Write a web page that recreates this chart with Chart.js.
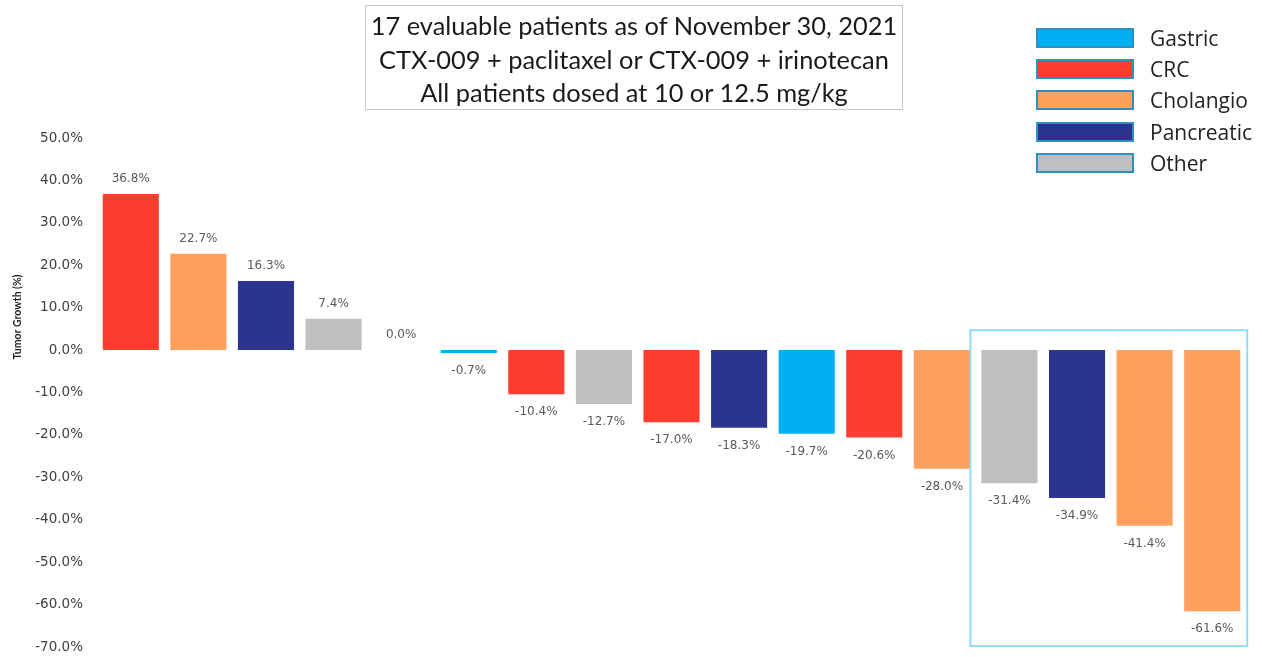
<!DOCTYPE html>
<html>
<head>
<meta charset="utf-8">
<script src="https://cdn.jsdelivr.net/npm/chart.js@4.4.0/dist/chart.umd.min.js"></script>
<style>
    html, body { margin: 0; padding: 0; background: #fff; overflow: hidden; }
    #wrap { position: relative; width: 1262px; height: 657px; }
    #chart { display: block; width: 1262px; height: 657px; }
    #titleBox {
        position: absolute; left: 365px; top: 5px; width: 538px; height: 105px;
        border: 1.5px solid #c8c8c8; box-sizing: border-box;
        font-family: Lato, sans-serif; font-size: 25.4px; line-height: 33.5px;
        text-align: center; color: #1a1a1a; padding-top: 3px;
    }
    #legend { position: absolute; left: 1036px; top: 22px; font-family: "Open Sans", sans-serif; font-size: 21px; color: #222; }
    .leg-row { display: flex; align-items: center; height: 31.3px; }
    .leg-sw { width: 98px; height: 20px; border: 2px solid #2f8fbf; box-sizing: border-box; margin-right: 16px; }
</style>
</head>
<body>
<div id="wrap">
    <canvas id="chart" width="1262" height="657"></canvas>
    <div id="titleBox"></div>
    <div id="legend"></div>
</div>
<script>
// data
const titleLines = [
    '17 evaluable patients as of November 30, 2021',
    'CTX-009 + paclitaxel or CTX-009 + irinotecan',
    'All patients dosed at 10 or 12.5 mg/kg'
];
const tumorTypes = ['Gastric', 'CRC', 'Cholangio', 'Pancreatic', 'Other'];
const typeColors = ['#00b0f0', '#ff3d2e', '#ffa05e', '#2b358f', '#bfbfbf'];
const patients = ['P1','P2','P3','P4','P5','P6','P7','P8','P9','P10','P11','P12','P13','P14','P15','P16','P17'];
const growth = [36.8, 22.7, 16.3, 7.4, 0.0, -0.7, -10.4, -12.7, -17.0, -18.3, -19.7, -20.6, -28.0, -31.4, -34.9, -41.4, -61.6];
const patientType = ['CRC','Cholangio','Pancreatic','Other','Other','Gastric','CRC','Other','CRC','Pancreatic','Gastric','CRC','Cholangio','Other','Pancreatic','Cholangio','Cholangio'];
const yTicks = [50, 40, 30, 20, 10, 0, -10, -20, -30, -40, -50, -60, -70];
const highlightFrom = 13, highlightTo = 16;

document.getElementById('titleBox').innerHTML = titleLines.map(t => `<div>${t}</div>`).join('');
const legendEl = document.getElementById('legend');
tumorTypes.forEach(function (t, i) {
    legendEl.insertAdjacentHTML('beforeend',
        `<div class="leg-row"><div class="leg-sw" style="background:${typeColors[i]}"></div><span>${t}</span></div>`);
});

const barColors = patientType.map(t => typeColors[tumorTypes.indexOf(t)]);

// value labels above / below bars
const valueLabels = {
    id: 'valueLabels',
    afterDatasetsDraw(chart) {
        const ctx = chart.ctx;
        const meta = chart.getDatasetMeta(0);
        ctx.save();
        ctx.font = '12px "DejaVu Sans", sans-serif';
        ctx.fillStyle = '#595959';
        ctx.textAlign = 'center';
        ctx.textBaseline = 'middle';
        meta.data.forEach(function (bar, i) {
            const v = growth[i];
            const y = v >= 0 ? bar.y - 15 : bar.y + 18;
            ctx.fillText(v.toFixed(1) + '%', bar.x, y);
        });
        ctx.restore();
    }
};

// light blue frame round the last bars + y axis title
const extras = {
    id: 'extras',
    afterDraw(chart) {
        const ctx = chart.ctx;
        const x = chart.scales.x, y = chart.scales.y;
        const left = x.getPixelForValue(highlightFrom) - 39;
        const right = x.getPixelForValue(highlightTo) + 35;
        const top = y.getPixelForValue(4.7);
        const bottom = y.getPixelForValue(-70) - 1;
        ctx.save();
        ctx.strokeStyle = '#8fdcf7';
        ctx.lineWidth = 2;
        ctx.strokeRect(left, top, right - left, bottom - top);

        ctx.translate(18, 317);
        ctx.rotate(-Math.PI / 2);
        ctx.font = 'bold 10.5px Lato, sans-serif';
        ctx.fillStyle = '#1f1f1f';
        ctx.textAlign = 'center';
        ctx.textBaseline = 'middle';
        ctx.fillText('Tumor Growth (%)', 0, 0);
        ctx.restore();
    }
};

new Chart(document.getElementById('chart'), {
    type: 'bar',
    data: {
        labels: patients,
        datasets: [{
            data: growth,
            backgroundColor: barColors,
            borderWidth: 0,
            categoryPercentage: 1,
            barPercentage: 0.83
        }]
    },
    options: {
        responsive: false,
        maintainAspectRatio: false,
        animation: false,
        layout: { padding: { top: 138, bottom: 10, left: 0, right: 16 } },
        plugins: { legend: { display: false }, tooltip: { enabled: false } },
        scales: {
            x: { display: false },
            y: {
                min: -70, max: 50,
                afterFit(scale) {
                    scale.width = 97;
                    scale.paddingTop = 0;
                    scale.paddingBottom = 0;
                },
                afterBuildTicks(scale) { scale.ticks = yTicks.map(v => ({ value: v })); },
                grid: { display: false, drawTicks: false },
                border: { display: false },
                ticks: {
                    padding: 14,
                    color: '#404040',
                    font: { family: '"DejaVu Sans", sans-serif', size: 13.5 },
                    callback: v => v.toFixed(1) + '%'
                }
            }
        }
    },
    plugins: [valueLabels, extras]
});
</script>
</body>
</html>
